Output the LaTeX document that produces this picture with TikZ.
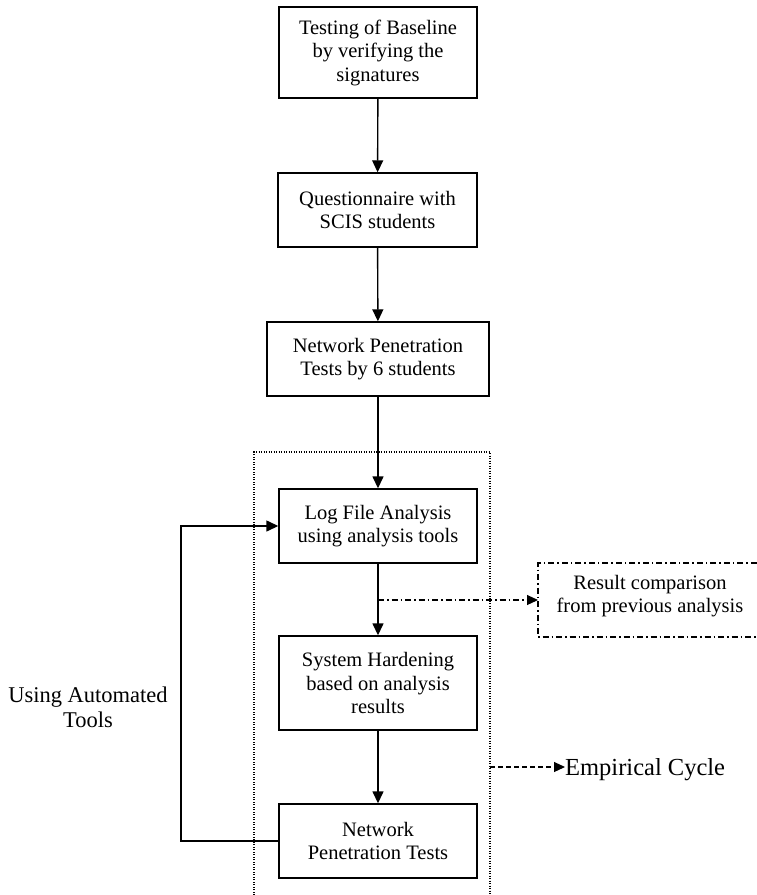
\documentclass[tikz,border=0pt]{standalone}
\usepackage{fontspec}
\setmainfont{Liberation Serif}
\usetikzlibrary{arrows.meta}
\begin{document}
\begin{tikzpicture}[x=1pt,y=-1pt,
  box/.style={draw, line width=1.4pt, align=center, inner sep=0pt,
    font=\fontsize{20.5}{23.5}\selectfont},
  arr/.style={line width=1.4pt, -{Triangle[length=12pt,width=11pt]}},
  dashdot/.style={dash pattern=on 6pt off 3pt on 1.5pt off 3pt, line width=1.1pt},
  lab/.style={align=center, inner sep=0pt}]
\clip (0,0) rectangle (757,895);
\useasboundingbox (0,0) rectangle (757,895);
\fill[white] (0,0) rectangle (757,895);
\node[box, minimum width=198pt, minimum height=91pt] (b1) at (378,52.5) {Testing of Baseline\\by verifying the\\signatures};
\node[box, minimum width=199pt, minimum height=74pt] (b2) at (377.5,210) {Questionnaire with\\SCIS students};
\node[box, minimum width=222pt, minimum height=74pt] (b3) at (378,359) {Network Penetration\\Tests by 6 students};
\node[box, minimum width=198pt, minimum height=74pt] (b4) at (378,526) {Log File Analysis\\using analysis tools};
\node[box, minimum width=198pt, minimum height=94pt] (b5) at (378,683) {System Hardening\\based on analysis\\results};
\node[box, minimum width=198pt, minimum height=74pt] (b6) at (378,841) {Network\\Penetration Tests};
% dotted empirical-cycle region
\draw[line width=1.1pt, dash pattern=on 1pt off 1.5pt] (254,905) -- (254,452) -- (490,452) -- (490,905);
% result comparison box (cut at right edge)
\draw[dashdot] (770,563) -- (538,563) -- (538,637) -- (770,637);
\node[lab, font=\fontsize{20.5}{23.5}\selectfont] (res) at (650,596) {Result comparison\\from previous analysis};
\coordinate (resw) at (538,600);
\coordinate (split) at (378,600);
% main flow
\draw[arr] (b1) -- (b2);
\draw[arr] (b2) -- (b3);
\draw[arr] (b3) -- (b4);
\draw[arr] (b4) -- (b5);
\draw[arr] (b5) -- (b6);
\draw[dashdot, -{Triangle[length=11pt,width=10pt]}] (split) -- (resw);
% feedback loop
\coordinate (fb) at (181,841);
\draw[arr] (b6.west) -- (fb) |- (b4.west);
\node[lab, font=\fontsize{22.5}{25}\selectfont] (auto) at (88,707) {Using Automated\\Tools};
% empirical cycle
\node[lab, anchor=west, font=\fontsize{24.5}{28}\selectfont] (emp) at (565,770) {Empirical Cycle};
\coordinate (dotr) at (490,767);
\draw[dash pattern=on 5pt off 3pt, line width=1.1pt, -{Triangle[length=11pt,width=10pt]}] (dotr) -- (emp.west |- dotr);
\end{tikzpicture}
\end{document}
